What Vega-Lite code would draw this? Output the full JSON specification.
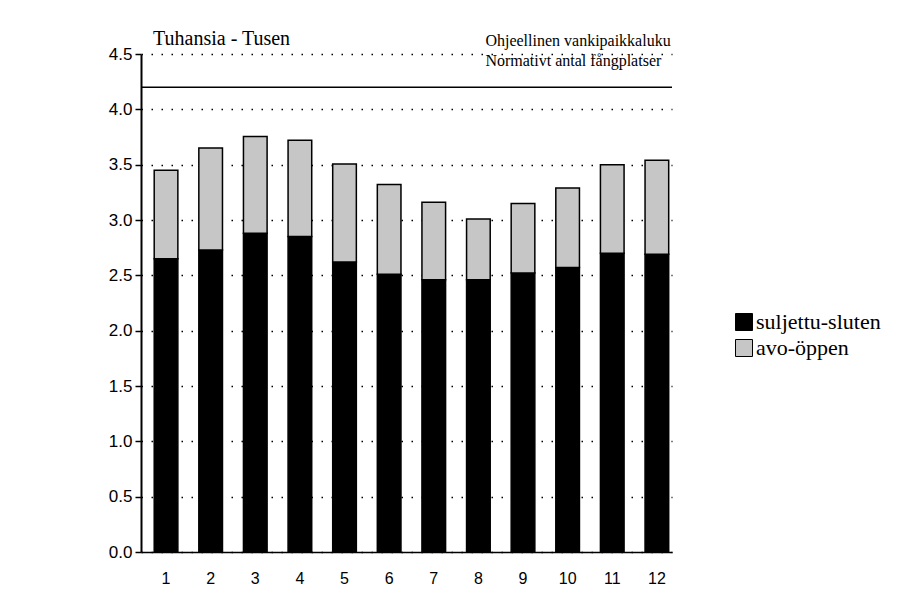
{
  "$schema": "https://vega.github.io/schema/vega-lite/v6.json",
  "width": 531,
  "height": 498,
  "autosize": {"type": "none"},
  "padding": {"left": 141, "top": 54, "right": 240, "bottom": 55},
  "background": "white",
  "config": {
    "view": {"stroke": null},
    "axis": {"labelFont": "Liberation Sans", "labelColor": "black"}
  },
  "datasets": {
    "bars": [
      {"month": 1, "type": "suljettu-sluten", "value": 2.65},
      {"month": 1, "type": "avo-öppen", "value": 0.80},
      {"month": 2, "type": "suljettu-sluten", "value": 2.73},
      {"month": 2, "type": "avo-öppen", "value": 0.92},
      {"month": 3, "type": "suljettu-sluten", "value": 2.88},
      {"month": 3, "type": "avo-öppen", "value": 0.875},
      {"month": 4, "type": "suljettu-sluten", "value": 2.85},
      {"month": 4, "type": "avo-öppen", "value": 0.87},
      {"month": 5, "type": "suljettu-sluten", "value": 2.62},
      {"month": 5, "type": "avo-öppen", "value": 0.885},
      {"month": 6, "type": "suljettu-sluten", "value": 2.51},
      {"month": 6, "type": "avo-öppen", "value": 0.81},
      {"month": 7, "type": "suljettu-sluten", "value": 2.46},
      {"month": 7, "type": "avo-öppen", "value": 0.70},
      {"month": 8, "type": "suljettu-sluten", "value": 2.46},
      {"month": 8, "type": "avo-öppen", "value": 0.55},
      {"month": 9, "type": "suljettu-sluten", "value": 2.52},
      {"month": 9, "type": "avo-öppen", "value": 0.63},
      {"month": 10, "type": "suljettu-sluten", "value": 2.57},
      {"month": 10, "type": "avo-öppen", "value": 0.72},
      {"month": 11, "type": "suljettu-sluten", "value": 2.70},
      {"month": 11, "type": "avo-öppen", "value": 0.80},
      {"month": 12, "type": "suljettu-sluten", "value": 2.69},
      {"month": 12, "type": "avo-öppen", "value": 0.85}
    ],
    "left": [{"month": 1, "value": 4.58, "label": "Tuhansia - Tusen"}],
    "right": [
      {"month": 8, "value": 4.57, "label": "Ohjeellinen vankipaikkaluku"},
      {"month": 8, "value": 4.39, "label": "Normativt antal fångplatser"}
    ],
    "norm": [{"value": 4.2}]
  },
  "encoding": {
    "x": {
      "field": "month",
      "type": "ordinal",
      "scale": {"paddingInner": 0.47, "paddingOuter": 0.185, "align": 0.8},
      "axis": {
        "title": null,
        "labelAngle": 0,
        "ticks": false,
        "labelPadding": 18,
        "labelFontSize": 16,
        "domainColor": "black",
        "domainWidth": 1.5
      }
    },
    "y": {
      "field": "value",
      "type": "quantitative",
      "scale": {"domain": [0, 4.5], "nice": false},
      "axis": {
        "title": null,
        "values": [0, 0.5, 1, 1.5, 2, 2.5, 3, 3.5, 4, 4.5],
        "format": ".1f",
        "labelFontSize": 17,
        "labelPadding": 3,
        "tickSize": 6,
        "tickColor": "black",
        "tickWidth": 1.5,
        "domainColor": "black",
        "domainWidth": 2,
        "grid": true,
        "gridColor": "black",
        "gridWidth": 1.5,
        "gridDash": [1.5, 8.5],
        "gridOpacity": 1
      }
    }
  },
  "layer": [
    {
      "data": {"name": "bars"},
      "mark": {"type": "bar", "stroke": "black", "strokeWidth": 1.5},
      "encoding": {
        "y": {"field": "value", "type": "quantitative", "stack": "zero"},
        "color": {
          "field": "type",
          "type": "nominal",
          "scale": {"domain": ["suljettu-sluten", "avo-öppen"], "range": ["black", "#c6c6c6"]},
          "legend": {
            "title": null,
            "orient": "none",
            "legendX": 592,
            "legendY": 257,
            "padding": 0,
            "symbolType": "square",
            "symbolSize": 289,
            "symbolStrokeColor": "black",
            "symbolStrokeWidth": 1,
            "symbolOpacity": 1,
            "labelFont": "Liberation Serif",
            "labelFontSize": 22,
            "labelColor": "black",
            "labelOffset": 1,
            "rowPadding": 4,
            "labelLimit": 400
          }
        },
        "order": {"field": "type", "sort": "descending"}
      }
    },
    {
      "data": {"name": "norm"},
      "mark": {"type": "rule", "color": "black", "strokeWidth": 1.5},
      "encoding": {"x": {"value": 0}, "x2": {"value": 531}, "y": {"field": "value", "type": "quantitative"}}
    },
    {
      "data": {"name": "left"},
      "mark": {"type": "text", "align": "left", "baseline": "alphabetic", "dx": -13, "font": "Liberation Serif", "fontSize": 20, "color": "black"},
      "encoding": {"text": {"field": "label"}}
    },
    {
      "data": {"name": "right"},
      "mark": {"type": "text", "align": "left", "baseline": "alphabetic", "dx": 7, "font": "Liberation Serif", "fontSize": 16, "color": "black"},
      "encoding": {"text": {"field": "label"}}
    }
  ]
}
